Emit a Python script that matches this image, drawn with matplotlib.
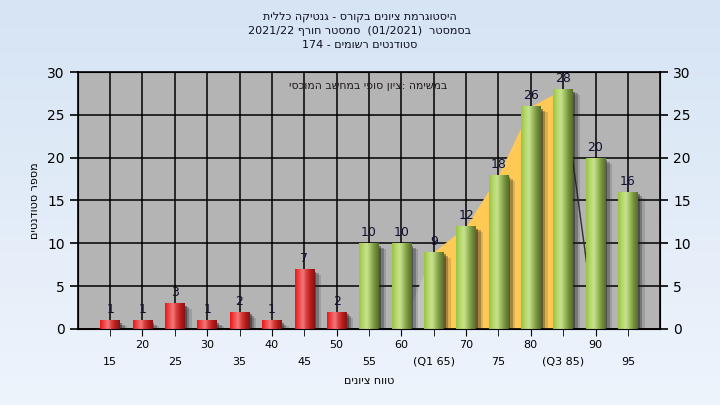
import numpy as np
import matplotlib.pyplot as plt
from matplotlib.colors import to_rgb

# grade ranges and number of students in each
grades = [15, 20, 25, 30, 35, 40, 45, 50, 55, 60, 65, 70, 75, 80, 85, 90, 95]
counts = [1, 1, 3, 1, 2, 1, 7, 2, 10, 10, 9, 12, 18, 26, 28, 20, 16]
tick_labels = ['15', '20', '25', '30', '35', '40', '45', '50', '55', '60',
               '(Q1 65)', '70', '75', '80', '(Q3 85)', '90', '95']
pass_grade = 55
q1 = 65
q3 = 85

# hebrew strings are written in visual order (matplotlib has no bidi)
title_lines = ['תיללכ הקיטנג - סרוקב םינויצ תמרגוטסיה',
               '2021/22 ףרוח רטסמס  (01/2021)  רטסמסב',
               '174 - םימושר םיטנדוטס']
note = 'יסכומה בשחמב יפוס ןויצ: המישמב'
xlabel = 'םינויצ חווט'
ylabel = 'םיטנדוטס רפסמ'

red_grad = ['#E81818', '#F04848', '#F07878', '#D83838', '#B01C1C', '#8A1212']
green_grad = ['#98C444', '#B4D868', '#C8E290', '#9CBC5C', '#748F3C', '#56702A']


def gradient(stops, n=60):
    cols = np.array([to_rgb(c) for c in stops])
    pos = np.linspace(0, 1, len(stops))
    t = np.linspace(0, 1, n)
    g = np.stack([np.interp(t, pos, cols[:, k]) for k in range(3)], axis=1)
    return g[np.newaxis, :, :]


x = np.arange(len(grades))

fig = plt.figure(figsize=(7.2, 4.05), dpi=100)

# light blue background
bg = fig.add_axes([0, 0, 1, 1], zorder=-10)
top_c = np.array(to_rgb('#D6E4F4'))
bot_c = np.array(to_rgb('#EEF4FC'))
bg_col = np.linspace(0, 1, 100)[:, None, None] * (bot_c - top_c) + top_c
bg.imshow(bg_col, aspect='auto', extent=(0, 1, 0, 1), origin='upper')
bg.axis('off')

ax = fig.add_axes([0.108, 0.188, 0.809, 0.634])
ax.set_facecolor('#B4B4B4')
ax.set_axisbelow(True)

# quartile area behind the bars
i1 = grades.index(q1)
i3 = grades.index(q3)
ax.fill_between(x[i1:i3 + 1], counts[i1:i3 + 1], color='#FFC955', lw=0, zorder=1)
ax.fill([i1 - 1, i1, i1], [0, counts[i1], 0], color='#C2C2C2', lw=0, zorder=1)
ax.plot([i3, i3 + 1], [counts[i3], 0], color='#303030', lw=1, zorder=1)

# soft shadows
ax.bar(x + 0.07, counts, 0.6, bottom=-0.3, color='#202020', alpha=0.45, zorder=2)
ax.bar(x + 0.15, counts, 0.6, bottom=-0.5, color='#202020', alpha=0.30, zorder=2)
ax.bar(x + 0.22, counts, 0.6, bottom=-0.7, color='#202020', alpha=0.15, zorder=2)

colors = ['#E02020' if g < pass_grade else '#A0C850' for g in grades]
bars = ax.bar(x, counts, 0.6, color=colors, zorder=3)
for b, g in zip(bars, grades):
    stops = red_grad if g < pass_grade else green_grad
    im = ax.imshow(gradient(stops), aspect='auto', zorder=4,
                   extent=(b.get_x(), b.get_x() + b.get_width(), 0, b.get_height()))
    im.set_clip_path(b)

for xi, c in zip(x, counts):
    ax.annotate(str(c), (xi, c), xytext=(0, 3), textcoords='offset points',
                ha='center', va='bottom', fontsize=9, color='#101030', zorder=5)

ax.set_xlim(-1, 17)
ax.set_ylim(0, 30)
ax.set_yticks(range(0, 31, 5))
ax.set_xticks(x[1::2])
ax.set_xticklabels([tick_labels[i] for i in x[1::2]])
ax.set_xticks(x[0::2], minor=True)
ax.set_xticklabels([tick_labels[i] for i in x[0::2]], minor=True)
ax.tick_params(axis='x', which='major', length=5, pad=3, labelsize=8, colors='black')
ax.tick_params(axis='x', which='minor', length=5, pad=15, labelsize=8, colors='black')
ax.tick_params(axis='y', length=6, width=1.2, labelsize=10, colors='black')
ax.grid(axis='x', which='both', color='black', lw=1.1)
ax.grid(axis='y', which='major', color='black', lw=1.1)
for s in ax.spines.values():
    s.set_linewidth(1.2)

ax2 = ax.twinx()
ax2.set_ylim(0, 30)
ax2.set_yticks(range(0, 31, 5))
ax2.tick_params(axis='y', length=6, width=1.2, labelsize=10, colors='black')

ax.text(0.498, 0.945, note, transform=ax.transAxes, ha='center', va='center',
        fontsize=7.8, color='#201818', zorder=6)

ax.set_xlabel(xlabel, fontsize=8, labelpad=6.5)
ax.set_ylabel(ylabel, fontsize=8, labelpad=5)

for i, line in enumerate(title_lines):
    fig.text(0.5, 0.958 - i * 0.035, line, ha='center', va='center', fontsize=8, color='#101020')

plt.savefig('out.png', dpi=100)
